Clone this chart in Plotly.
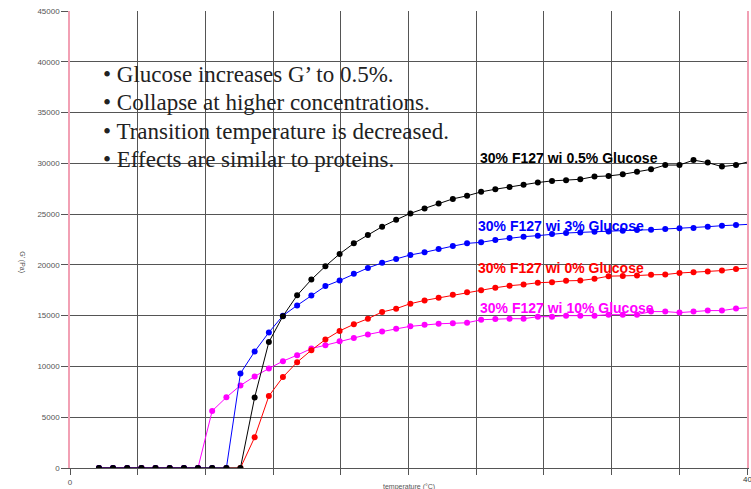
import plotly.graph_objects as go

temps = [1.71, 2.54, 3.38, 4.22, 5.05, 5.89, 6.73, 7.56, 8.40, 9.24,
         10.07, 10.91, 11.75, 12.58, 13.42, 14.26, 15.09, 15.93, 16.77, 17.60,
         18.44, 19.27, 20.11, 20.95, 21.78, 22.62, 23.46, 24.29, 25.13, 25.97,
         26.80, 27.64, 28.48, 29.31, 30.15, 30.99, 31.82, 32.66, 33.50, 34.33,
         35.17, 36.01, 36.84, 37.68, 38.52, 39.35, 40.19]

g_05 = [0, 0, 0, 0, 0, 0, 0, 0, 0, 0, 0,
        6950, 12400, 14950, 17000, 18550, 19870, 21080, 22120, 22940, 23760,
        24440, 25070, 25560, 26050, 26500, 26800, 27190, 27450, 27680, 27880,
        28110, 28270, 28330, 28430, 28700, 28760, 28920, 29180, 29410, 29830,
        29830, 30320, 30070, 29680, 29830, 30200]

g_3 = [0, 0, 0, 0, 0, 0, 0, 0, 0, 0,
       9310, 11470, 13350, 15000, 16010, 16990, 17910, 18460, 19120, 19700,
       20200, 20590, 20980, 21240, 21570, 21850, 22120, 22220, 22450, 22650,
       22780, 22880, 23040, 23140, 23200, 23270, 23300, 23370, 23430, 23460,
       23530, 23600, 23630, 23760, 23860, 23920, 24000]

g_0 = [0, 0, 0, 0, 0, 0, 0, 0, 0, 0, 0,
       3020, 7090, 8950, 10420, 11600, 12650, 13500, 14150, 14700, 15360,
       15690, 16180, 16500, 16760, 17050, 17300, 17500, 17750, 17950, 18070,
       18240, 18300, 18430, 18460, 18630, 18890, 18900, 18950, 19020, 19050,
       19200, 19280, 19340, 19440, 19600, 19700]

g_10 = [0, 0, 0, 0, 0, 0, 0, 0,
        5620, 6960, 8130, 9020, 9800, 10520, 11110, 11760, 12090, 12480, 12800,
        13150, 13450, 13700, 13950, 14100, 14200, 14250, 14300, 14600, 14680,
        14700, 14700, 14900, 14900, 15000, 15000, 15000, 15100, 15100, 15100,
        15400, 15400, 15300, 15400, 15500, 15500, 15700, 15800]

series = [
    ("30% F127 wi 10% Glucose", g_10, "#ff00ff"),
    ("30% F127 wi 0% Glucose", g_0, "#ff0000"),
    ("30% F127 wi 3% Glucose", g_3, "#0000ff"),
    ("30% F127 wi 0.5% Glucose", g_05, "#000000"),
]

label_pos = {
    "30% F127 wi 0.5% Glucose": (24.1, 30550),
    "30% F127 wi 3% Glucose": (24.0, 23800),
    "30% F127 wi 0% Glucose": (24.0, 19700),
    "30% F127 wi 10% Glucose": (24.1, 15800),
}

bullets = [
    "Glucose increases G\u2019 to 0.5%.",
    "Collapse at higher concentrations.",
    "Transition temperature is decreased.",
    "Effects are similar to proteins.",
]

x_ticks = [0, 4, 8, 12, 16, 20, 24, 28, 32, 36, 40]
x_ticktext = ["0", "", "", "", "", "", "", "", "", "", ""]
y_ticks = [0, 5000, 10000, 15000, 20000, 25000, 30000, 35000, 40000, 45000]
y_ticktext = ["0", "5000", "10000", "15000", "20000", "25000", "30000", "35000", "40000", "45000"]

fig = go.Figure()
for name, vals, col in series:
    fig.add_trace(go.Scatter(
        x=temps, y=vals, mode="lines+markers", name=name,
        line=dict(color=col, width=1),
        marker=dict(color=col, size=6),
    ))

for name, vals, col in series:
    lx, ly = label_pos[name]
    fig.add_annotation(x=lx, y=ly, text="<b>" + name + "</b>", showarrow=False,
                       xanchor="left", yanchor="middle",
                       font=dict(family="Liberation Sans", size=14, color=col))

for i, b in enumerate(bullets):
    fig.add_annotation(xref="paper", yref="paper", x=0.046, y=1 - (64 + 28.3 * i) / 459,
                       text="\u2022 " + b, showarrow=False, xanchor="left", yanchor="middle",
                       font=dict(family="Liberation Serif", size=23, color="#222222"))

fig.add_annotation(xref="paper", yref="paper", x=-0.081, y=0.45, text="G\u2019 (Pa)",
                   textangle=90, showarrow=False,
                   font=dict(family="Liberation Sans", size=7, color="#555555"))
fig.add_annotation(xref="paper", yref="paper", x=0.5, y=-0.028, yanchor="top",
                   text="temperature (\u00b0C)", showarrow=False,
                   font=dict(family="Liberation Sans", size=7, color="#555555"))
fig.add_annotation(xref="paper", yref="paper", x=0.991, y=-0.012, yanchor="top",
                   xanchor="left", text="40", showarrow=False,
                   font=dict(family="Liberation Sans", size=8, color="#333333"))

fig.update_layout(
    width=751, height=489,
    margin=dict(l=70, r=2, t=11, b=19),
    paper_bgcolor="white", plot_bgcolor="white",
    showlegend=False,
    xaxis=dict(range=[0, 40], tickvals=x_ticks, ticktext=x_ticktext,
               showgrid=True, gridcolor="#555555", gridwidth=1,
               zeroline=False, showline=True, linecolor="#555555", linewidth=1,
               ticks="outside", ticklen=6, tickcolor="#555555",
               tickfont=dict(family="Liberation Sans", size=8, color="#555555")),
    yaxis=dict(range=[0, 45000], tickvals=y_ticks, ticktext=y_ticktext,
               showgrid=True, gridcolor="#555555", gridwidth=1,
               zeroline=False, showline=True, linecolor="#f2a0b4", linewidth=1.5,
               mirror=True,
               ticks="outside", ticklen=7, tickcolor="#555555",
               tickfont=dict(family="Liberation Sans", size=8, color="#555555")),
)

fig.write_html("out.html")
